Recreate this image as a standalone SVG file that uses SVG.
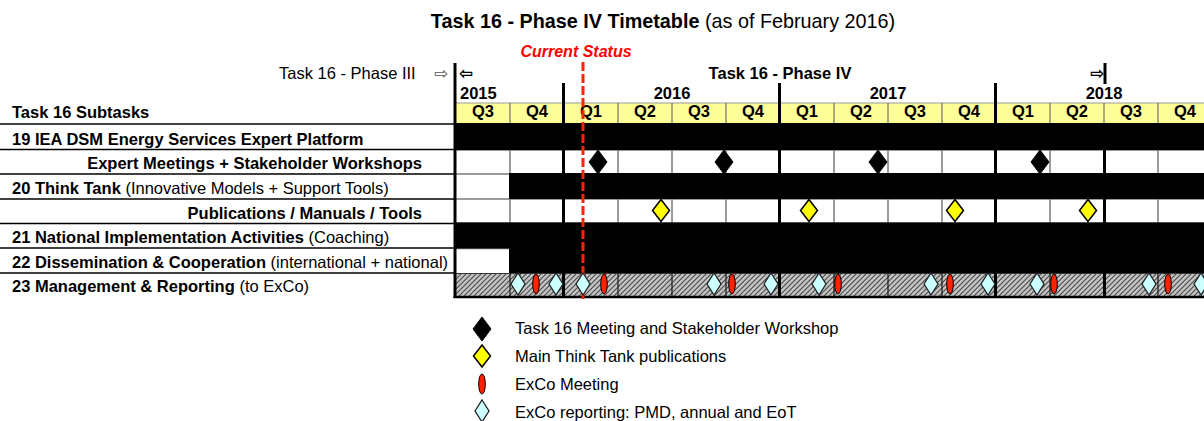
<svg xmlns="http://www.w3.org/2000/svg" width="1204" height="421" viewBox="0 0 1204 421">
<style>
text{font-family:"Liberation Sans",Arial,sans-serif;fill:#000}
.b{font-weight:bold}
.lbl{font-size:16.5px}
.q{font-size:16.5px;font-weight:bold;text-anchor:middle}
.yr{font-size:16.5px;font-weight:bold}
.thin{stroke:#7a7a7a;stroke-width:1.5}
.hthin{stroke:#555;stroke-width:1}
.thick{stroke:#000;stroke-width:3}
.sep{stroke:#000;stroke-width:1.5}
.arr{font-family:"DejaVu Sans",sans-serif;font-size:17px}
.blk{fill:#000;stroke:#000;stroke-width:1}
.yel{fill:#ffff00;stroke:#000;stroke-width:1.5}
.cyn{fill:#ccffff;stroke:#222;stroke-width:1.3}
.red{fill:#ff2200;stroke:#000;stroke-width:1}
</style>
<defs>
<pattern id="hatch" patternUnits="userSpaceOnUse" width="5" height="5">
<rect width="5" height="5" fill="#c4c4c4"/>
<path d="M0,5 L5,0 M-1,1 L1,-1 M4,6 L6,4" stroke="#4a4a4a" stroke-width="1.1"/>
</pattern>
<path id="dia-b" d="M0,-12 L9,0 L0,12 L-9,0 Z"/>
<path id="dia-y" d="M0,-11 L8.5,0 L0,11 L-8.5,0 Z"/>
<path id="dia-c" d="M0,-11 L7,0 L0,11 L-7,0 Z"/>
</defs>
<rect width="1204" height="421" fill="#fff"/>

<g id="title">
<text x="663" y="28" text-anchor="middle" style="font-size:19.8px"><tspan class="b">Task 16 - Phase IV Timetable</tspan> (as of February 2016)</text>
</g>

<g id="phase-header">
<text x="279" y="79" class="lbl">Task 16 - Phase III</text>
<text x="434" y="79" class="arr" style="fill:#555">⇨</text>
<text x="459" y="79" class="arr b">⇦</text>
<text x="780" y="79" class="lbl b" text-anchor="middle">Task 16 - Phase IV</text>
<text x="1090" y="79" class="arr b">⇨</text>
<line x1="1105" y1="63" x2="1105" y2="84" class="thick"/>
<text x="460" y="99" class="yr">2015</text>
<text x="672" y="99" class="yr" text-anchor="middle">2016</text>
<text x="888" y="99" class="yr" text-anchor="middle">2017</text>
<text x="1104" y="99" class="yr" text-anchor="middle">2018</text>
</g>

<g id="quarters">
<rect x="456" y="103" width="748" height="20" fill="#ffff99"/>
<line x1="456" y1="103" x2="1204" y2="103" stroke="#999" stroke-width="1"/>
<g class="hthin">
<line x1="510" y1="103" x2="510" y2="123"/><line x1="618" y1="103" x2="618" y2="123"/><line x1="672" y1="103" x2="672" y2="123"/><line x1="726" y1="103" x2="726" y2="123"/><line x1="834" y1="103" x2="834" y2="123"/><line x1="888" y1="103" x2="888" y2="123"/><line x1="942" y1="103" x2="942" y2="123"/><line x1="1050" y1="103" x2="1050" y2="123"/><line x1="1104" y1="103" x2="1104" y2="123"/><line x1="1158" y1="103" x2="1158" y2="123"/>
</g>
<text x="483" y="117" class="q">Q3</text><text x="537" y="117" class="q">Q4</text>
<text x="591" y="117" class="q">Q1</text><text x="645" y="117" class="q">Q2</text><text x="699" y="117" class="q">Q3</text><text x="753" y="117" class="q">Q4</text>
<text x="807" y="117" class="q">Q1</text><text x="861" y="117" class="q">Q2</text><text x="915" y="117" class="q">Q3</text><text x="969" y="117" class="q">Q4</text>
<text x="1023" y="117" class="q">Q1</text><text x="1077" y="117" class="q">Q2</text><text x="1131" y="117" class="q">Q3</text><text x="1185" y="117" class="q">Q4</text>
</g>

<g id="labels">
<g class="sep">
<line x1="0" y1="124" x2="456" y2="124"/><line x1="0" y1="149.5" x2="456" y2="149.5"/><line x1="0" y1="174" x2="456" y2="174"/><line x1="0" y1="199" x2="456" y2="199"/><line x1="0" y1="223.5" x2="456" y2="223.5"/><line x1="0" y1="248" x2="456" y2="248"/><line x1="0" y1="273" x2="456" y2="273"/>
</g>
<text x="12" y="118" class="lbl b">Task 16 Subtasks</text>
<text x="12" y="145" class="lbl b">19 IEA DSM Energy Services Expert Platform</text>
<text x="422" y="169" class="lbl b" text-anchor="end">Expert Meetings + Stakeholder Workshops</text>
<text x="12" y="194" class="lbl"><tspan class="b">20 Think Tank</tspan> (Innovative Models + Support Tools)</text>
<text x="422" y="219" class="lbl b" text-anchor="end">Publications / Manuals / Tools</text>
<text x="12" y="243" class="lbl"><tspan class="b">21 National Implementation Activities</tspan> (Coaching)</text>
<text x="12" y="268" class="lbl"><tspan class="b">22 Dissemination &amp; Cooperation</tspan> (international + national)</text>
<text x="12" y="292" class="lbl"><tspan class="b">23 Management &amp; Reporting</tspan> (to ExCo)</text>
</g>

<g id="grid">
<rect x="456" y="124" width="748" height="149" fill="#fff"/>
<g class="thin">
<line x1="456" y1="150" x2="1204" y2="150"/><line x1="456" y1="174" x2="1204" y2="174"/><line x1="456" y1="199" x2="1204" y2="199"/><line x1="456" y1="223" x2="1204" y2="223"/><line x1="456" y1="248.5" x2="1204" y2="248.5"/>
<line x1="510" y1="124" x2="510" y2="273"/><line x1="618" y1="124" x2="618" y2="273"/><line x1="672" y1="124" x2="672" y2="273"/><line x1="726" y1="124" x2="726" y2="273"/><line x1="834" y1="124" x2="834" y2="273"/><line x1="888" y1="124" x2="888" y2="273"/><line x1="942" y1="124" x2="942" y2="273"/><line x1="1050" y1="124" x2="1050" y2="273"/><line x1="1158" y1="124" x2="1158" y2="273"/>
</g>
</g>

<g id="bars">
<rect x="456" y="123" width="748" height="27" fill="#000"/>
<rect x="509" y="173" width="695" height="26" fill="#000"/>
<rect x="456" y="222.5" width="748" height="26" fill="#000"/>
<rect x="509" y="248" width="695" height="25" fill="#000"/>
</g>

<g id="management-row">
<rect x="456" y="273" width="748" height="23" fill="url(#hatch)"/>
<line x1="456" y1="273.5" x2="1204" y2="273.5" stroke="#333" stroke-width="1"/>
<g stroke="#222" stroke-width="1.3">
<line x1="510" y1="273" x2="510" y2="296"/><line x1="618" y1="273" x2="618" y2="296"/><line x1="672" y1="273" x2="672" y2="296"/><line x1="726" y1="273" x2="726" y2="296"/><line x1="834" y1="273" x2="834" y2="296"/><line x1="888" y1="273" x2="888" y2="296"/><line x1="942" y1="273" x2="942" y2="296"/><line x1="1050" y1="273" x2="1050" y2="296"/><line x1="1158" y1="273" x2="1158" y2="296"/>
</g>
</g>

<g id="year-lines">
<line x1="455" y1="63" x2="455" y2="298" class="thick"/>
<line x1="563.5" y1="83" x2="563.5" y2="298" class="thick"/>
<line x1="779.5" y1="83" x2="779.5" y2="298" class="thick"/>
<line x1="995.5" y1="83" x2="995.5" y2="298" class="thick"/>
<line x1="1104.5" y1="124" x2="1104.5" y2="298" class="thick"/>
<line x1="453.5" y1="297" x2="1204" y2="297" stroke="#000" stroke-width="2.5"/>
</g>

<g id="current-status">
<text x="576" y="57" class="lbl b" style="font-style:italic;fill:#ff0000;font-size:16px" text-anchor="middle">Current Status</text>
<line x1="583" y1="62" x2="583" y2="300" stroke="#ff2200" stroke-width="3" stroke-dasharray="9 3"/>
</g>

<g id="meetings">
<use href="#dia-b" x="598" y="162" class="blk"/>
<use href="#dia-b" x="724" y="162" class="blk"/>
<use href="#dia-b" x="878" y="162" class="blk"/>
<use href="#dia-b" x="1040" y="162" class="blk"/>
</g>

<g id="publications">
<use href="#dia-y" x="661" y="210.5" class="yel"/>
<use href="#dia-y" x="809" y="210.5" class="yel"/>
<use href="#dia-y" x="955" y="210.5" class="yel"/>
<use href="#dia-y" x="1088" y="210.5" class="yel"/>
</g>

<g id="reporting">
<use href="#dia-c" x="518" y="284" class="cyn"/>
<use href="#dia-c" x="556" y="284" class="cyn"/>
<use href="#dia-c" x="583" y="284" class="cyn"/>
<use href="#dia-c" x="714" y="284" class="cyn"/>
<use href="#dia-c" x="771" y="284" class="cyn"/>
<use href="#dia-c" x="819" y="284" class="cyn"/>
<use href="#dia-c" x="931" y="284" class="cyn"/>
<use href="#dia-c" x="988" y="284" class="cyn"/>
<use href="#dia-c" x="1037" y="284" class="cyn"/>
<use href="#dia-c" x="1149" y="284" class="cyn"/>
<use href="#dia-c" x="1201" y="284" class="cyn"/>
</g>

<g id="exco-meetings">
<ellipse cx="536" cy="284" rx="3.3" ry="10" class="red"/>
<ellipse cx="604" cy="284" rx="3.3" ry="10" class="red"/>
<ellipse cx="732" cy="284" rx="3.3" ry="10" class="red"/>
<ellipse cx="838" cy="284" rx="3.3" ry="10" class="red"/>
<ellipse cx="950" cy="284" rx="3.3" ry="10" class="red"/>
<ellipse cx="1054" cy="284" rx="3.3" ry="10" class="red"/>
<ellipse cx="1168" cy="284" rx="3.3" ry="10" class="red"/>
</g>

<g id="legend">
<use href="#dia-b" x="482" y="329" class="blk"/>
<text x="515" y="334" class="lbl">Task 16 Meeting and Stakeholder Workshop</text>
<use href="#dia-y" x="482" y="356" class="yel"/>
<text x="515" y="362" class="lbl">Main Think Tank publications</text>
<ellipse cx="482" cy="384" rx="3.3" ry="10" class="red"/>
<text x="515" y="390" class="lbl">ExCo Meeting</text>
<use href="#dia-c" x="482" y="411" class="cyn"/>
<text x="515" y="418" class="lbl">ExCo reporting: PMD, annual and EoT</text>
</g>
</svg>
